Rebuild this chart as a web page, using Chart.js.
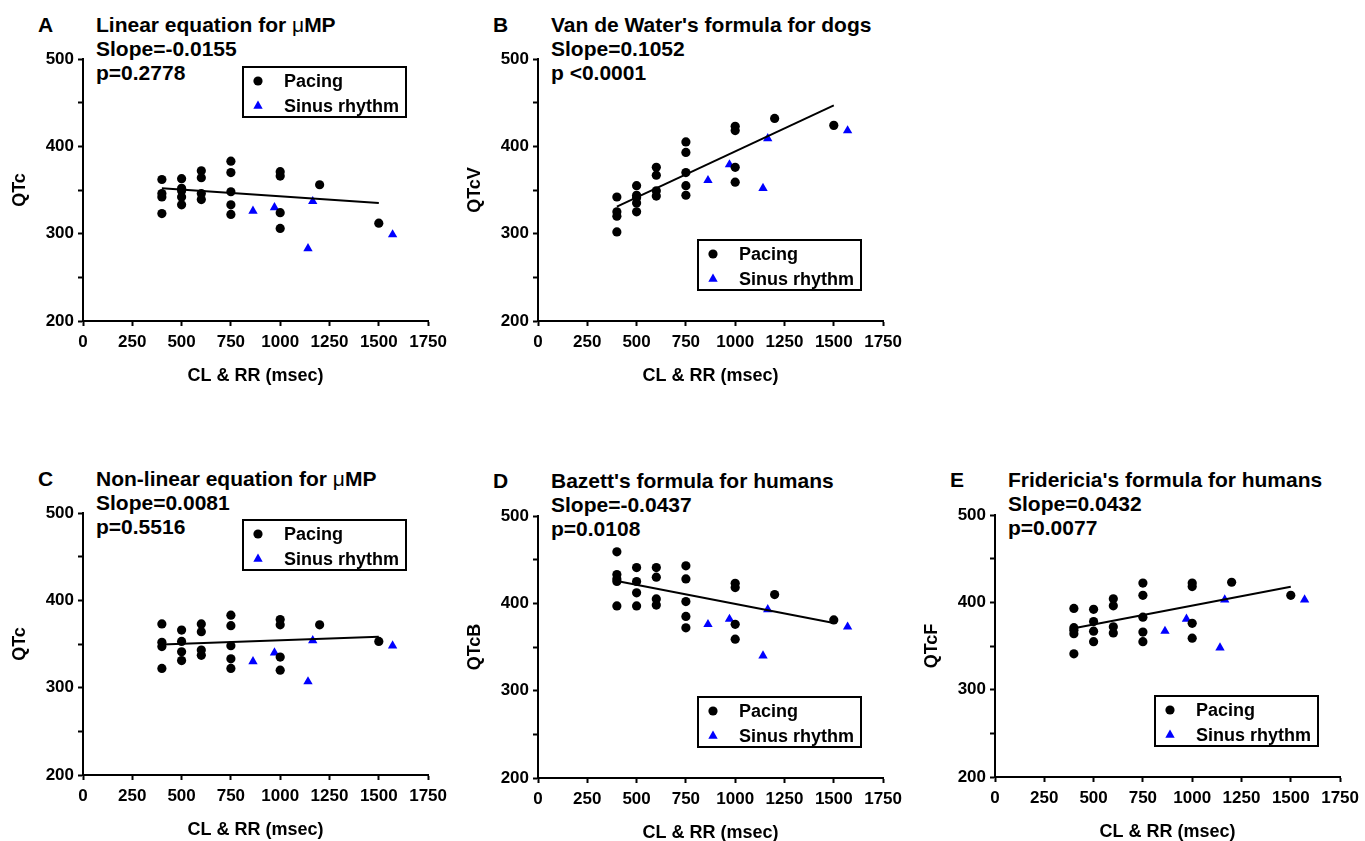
<!DOCTYPE html>
<html>
<head>
<meta charset="utf-8">
<script src="https://cdn.jsdelivr.net/npm/chart.js@4"></script>
<style>
  html, body { margin: 0; padding: 0; background: #fff; overflow: hidden; }
  body { width: 1365px; height: 841px; position: relative; }
  canvas { position: absolute; }
  .hd { position: absolute; font: bold 21px 'Liberation Sans', Arial, sans-serif; line-height: 24px; color: #000; white-space: nowrap; }
  .mu { font-weight: normal; }
</style>
</head>
<body>
<div class="hd" style="left:38px;top:13px">A</div>
<div class="hd" style="left:96px;top:13px">Linear equation for <span class="mu">μ</span>MP<br>Slope=-0.0155<br>p=0.2778</div>
<div class="hd" style="left:493px;top:13px">B</div>
<div class="hd" style="left:551px;top:13px">Van de Water's formula for dogs<br>Slope=0.1052<br>p &lt;0.0001</div>
<div class="hd" style="left:38px;top:467px">C</div>
<div class="hd" style="left:96px;top:467px">Non-linear equation for <span class="mu">μ</span>MP<br>Slope=0.0081<br>p=0.5516</div>
<div class="hd" style="left:493px;top:469px">D</div>
<div class="hd" style="left:551px;top:469px">Bazett's formula for humans<br>Slope=-0.0437<br>p=0.0108</div>
<div class="hd" style="left:950px;top:468px">E</div>
<div class="hd" style="left:1008px;top:468px">Fridericia's formula for humans<br>Slope=0.0432<br>p=0.0077</div>

<canvas id="chartA" width="453" height="401" style="left:0px;top:0px"></canvas>
<canvas id="chartB" width="453" height="401" style="left:455px;top:0px"></canvas>
<canvas id="chartC" width="453" height="401" style="left:0px;top:454px"></canvas>
<canvas id="chartD" width="453" height="401" style="left:455px;top:457px"></canvas>
<canvas id="chartE" width="453" height="401" style="left:912px;top:456px"></canvas>

<script>
// values
const xTicks = [0, 250, 500, 750, 1000, 1250, 1500, 1750];
const yTicks = [200, 300, 400, 500];
const fitCL = [400, 1500];
const sinusRR = [862, 971, 1141, 1165, 1570];

// A - linear equation for uMP
const pacingCL_A = [400,400,400,400, 500,500,500,500,500, 600,600,600,600, 750,750,750,750,750, 1000,1000,1000,1000, 1200, 1500];
const pacingQTc_A = [362,346,342,323, 363,352,349,342,333, 372,364,346,339, 383,370,348,333,322, 371,366,324,306, 356, 312];
const sinusQTc_A = [326, 330, 283, 337, 299];
const fitQTc_A = [352, 335];

// B - Van de Water
const pacingCL_B = [400,400,400,400, 500,500,500,500,500, 600,600,600,600, 750,750,750,750,750, 1000,1000,1000,1000, 1200, 1500];
const pacingQTcV_B = [342,325,320,302, 355,344,341,335,325, 376,367,349,343, 405,393,370,355,344, 423,418,376,359, 432, 424];
const sinusQTcV_B = [361, 379, 352, 409, 418];
const fitQTcV_B = [331, 447];

// C - non-linear equation for uMP
const pacingCL_C = [400,400,400,400, 500,500,500,500, 600,600,600,600, 750,750,750,750,750, 1000,1000,1000,1000, 1200, 1500];
const pacingQTc_C = [373,352,347,322, 366,353,341,331, 373,364,343,337, 383,371,348,333,322, 378,372,335,320, 372, 353];
const sinusQTc_C = [330, 340, 307, 354, 348];
const fitQTc_C = [349.5, 358.4];

// D - Bazett
const pacingCL_D = [400,400,400,400,400, 500,500,500,500, 600,600,600,600, 750,750,750,750,750, 1000,1000,1000,1000, 1200, 1500];
const pacingQTcB_D = [459,433,428,425,397, 441,425,412,397, 441,430,405,398, 443,428,402,385,372, 423,418,376,359, 410, 381];
const sinusQTcB_D = [376, 382, 340, 393, 373];
const fitQTcB_D = [425.5, 377.5];

// E - Fridericia
const pacingCL_E = [400,400,400,400,400, 500,500,500,500, 600,600,600,600, 750,750,750,750,750, 1000,1000,1000,1000, 1200, 1500];
const pacingQTcF_E = [393,371,368,364,341, 392,378,367,355, 404,396,372,365, 422,408,383,366,355, 422,418,376,359, 423, 408];
const sinusQTcF_E = [367, 381, 348, 403, 403];
const fitQTcF_E = [370.4, 417.9];

const FONT = "'Liberation Sans', Arial, sans-serif";
Chart.defaults.font.family = FONT;
Chart.defaults.font.weight = 'bold';
Chart.defaults.color = '#000';

const pts = (xs, ys) => xs.map((x, i) => ({ x: x, y: ys[i] }));

// boxed legend inside the plot, like the original figure
const boxLegend = {
  id: 'boxLegend',
  afterDraw(chart, args, opts) {
    const { ctx, chartArea } = chart;
    const x0 = chartArea.left + opts.dx;
    const y0 = chartArea.top + opts.dy;
    ctx.save();
    ctx.lineWidth = 2;
    ctx.strokeStyle = '#000';
    ctx.strokeRect(x0, y0, 163, 50);
    ctx.font = 'bold 18px ' + FONT;
    ctx.textBaseline = 'middle';
    ctx.textAlign = 'left';
    const items = chart.data.datasets.filter(d => d.label);
    items.forEach((ds, i) => {
      const cx = x0 + 15, cy = y0 + 14 + i * 25;
      ctx.fillStyle = ds.backgroundColor;
      ctx.beginPath();
      if (ds.pointStyle === 'triangle') {
        const r = ds.pointRadius;
        ctx.moveTo(cx, cy - r);
        ctx.lineTo(cx + r * 0.866, cy + r / 2);
        ctx.lineTo(cx - r * 0.866, cy + r / 2);
        ctx.closePath();
      } else {
        ctx.arc(cx, cy, ds.pointRadius, 0, Math.PI * 2);
      }
      ctx.fill();
      ctx.fillStyle = '#000';
      ctx.fillText(ds.label, x0 + 41, cy + 1);
    });
    ctx.restore();
  }
};

function makeChart(id, pacingX, pacingY, sinusY, fitY, yTitle, legendDy) {
  return new Chart(document.getElementById(id), {
    type: 'scatter',
    data: {
      datasets: [
        {
          data: pts(fitCL, fitY),
          showLine: true,
          borderColor: '#000',
          borderWidth: 2,
          pointRadius: 0,
          pointHoverRadius: 0
        },
        {
          label: 'Pacing',
          data: pts(pacingX, pacingY),
          pointStyle: 'circle',
          pointRadius: 4.6,
          backgroundColor: '#000',
          borderWidth: 0
        },
        {
          label: 'Sinus rhythm',
          data: pts(sinusRR, sinusY),
          pointStyle: 'triangle',
          pointRadius: 5.4,
          backgroundColor: '#0000ff',
          borderWidth: 0
        }
      ]
    },
    options: {
      responsive: false,
      animation: false,
      layout: { padding: { top: 59, right: 21, bottom: 0, left: 0 } },
      plugins: {
        legend: { display: false },
        tooltip: { enabled: false },
        boxLegend: { dx: 160, dy: legendDy }
      },
      scales: {
        x: {
          type: 'linear',
          min: 0,
          max: 1750,
          afterBuildTicks: axis => { axis.ticks = xTicks.map(v => ({ value: v })); },
          afterFit: axis => { axis.height = 80; },
          border: { display: true, color: '#000', width: 2 },
          grid: { drawOnChartArea: false, drawTicks: true, tickLength: 5, color: '#000', tickWidth: 2 },
          ticks: {
            font: { size: 17, weight: 'bold' },
            padding: 6,
            maxRotation: 0,
            autoSkip: false,
            callback: v => String(v)
          },
          title: { display: true, text: 'CL & RR (msec)', font: { size: 18, weight: 'bold' }, padding: { top: 4, bottom: 14 } }
        },
        y: {
          type: 'linear',
          min: 200,
          max: 500,
          afterBuildTicks: axis => {
            const t = [];
            for (let v = 200; v <= 500; v += 50) t.push({ value: v });
            axis.ticks = t;
          },
          afterFit: axis => { axis.width = 83; },
          border: { display: true, color: '#000', width: 2 },
          grid: { drawOnChartArea: false, drawTicks: true, tickLength: 5, color: '#000', tickWidth: 2 },
          ticks: {
            font: { size: 17, weight: 'bold' },
            padding: 4,
            autoSkip: false,
            callback: v => yTicks.includes(v) ? String(v) : ''
          },
          title: { display: true, text: yTitle, font: { size: 18, weight: 'bold' }, padding: { top: 9, bottom: 0 } }
        }
      }
    },
    plugins: [boxLegend]
  });
}

makeChart('chartA', pacingCL_A, pacingQTc_A, sinusQTc_A, fitQTc_A, 'QTc', 8);
makeChart('chartB', pacingCL_B, pacingQTcV_B, sinusQTcV_B, fitQTcV_B, 'QTcV', 181);
makeChart('chartC', pacingCL_C, pacingQTc_C, sinusQTc_C, fitQTc_C, 'QTc', 7);
makeChart('chartD', pacingCL_D, pacingQTcB_D, sinusQTcB_D, fitQTcB_D, 'QTcB', 181);
makeChart('chartE', pacingCL_E, pacingQTcF_E, sinusQTcF_E, fitQTcF_E, 'QTcF', 181);
</script>
</body>
</html>
